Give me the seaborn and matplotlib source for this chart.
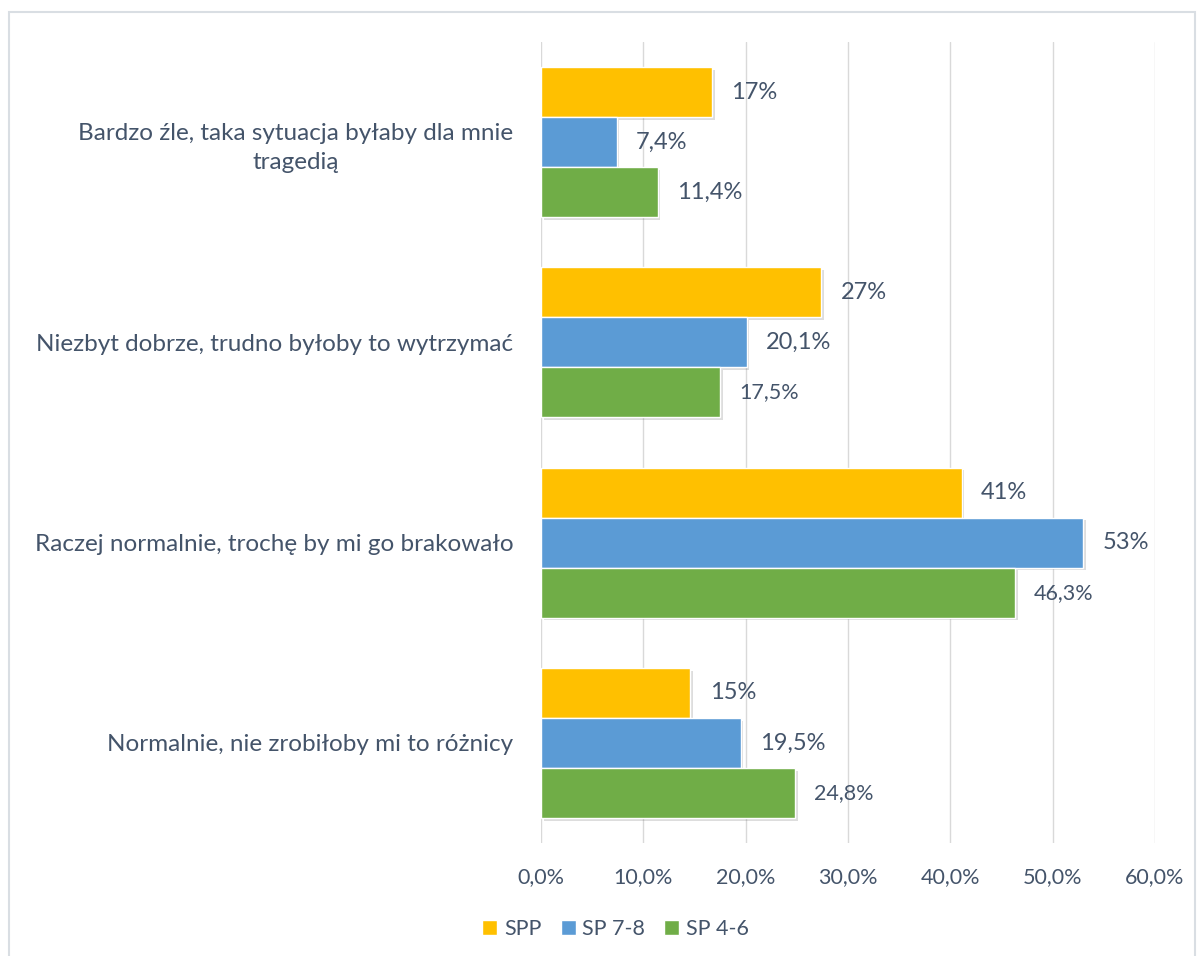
import pandas as pd
import numpy as np
import matplotlib.pyplot as plt
import seaborn as sns
from matplotlib.patches import Rectangle
from matplotlib import patheffects as pe

categories = [
    "Bardzo źle, taka sytuacja byłaby dla mnie\ntragedią",
    "Niezbyt dobrze, trudno byłoby to wytrzymać",
    "Raczej normalnie, trochę by mi go brakowało",
    "Normalnie, nie zrobiłoby mi to różnicy",
]
series = ["SPP", "SP 7-8", "SP 4-6"]
spp = [16.7, 27.4, 41.1, 14.6]
sp78 = [7.4, 20.1, 53.0, 19.5]
sp46 = [11.4, 17.5, 46.3, 24.8]
colors = ["#FFC000", "#5B9BD5", "#70AD47"]
text_col = "#44546A"

df = pd.DataFrame({
    "kategoria": categories * 3,
    "grupa": [s for s in series for _ in categories],
    "wartosc": spp + sp78 + sp46,
})

sns.set_style("white")
plt.rcParams["font.family"] = ["Lato", "DejaVu Sans"]

fig = plt.figure(figsize=(12, 9.56), dpi=100)
ax = fig.add_axes([0.4508, 0.1182, 0.5117, 0.8379])

sns.barplot(data=df, y="kategoria", x="wartosc", hue="grupa", order=categories,
            hue_order=series, palette=colors, orient="h", width=0.75, gap=0,
            saturation=1, ax=ax, legend=True, zorder=3)

for bars in ax.containers:
    for b in bars:
        b.set_path_effects([pe.SimplePatchShadow(offset=(2, -2), alpha=0.18, shadow_rgbFace="#444444"),
                            pe.Normal()])


def fmt(v, dec):
    s = f"{v:.{dec}f}".replace(".", ",")
    if s.endswith(",0"):
        s = s[:-2]
    return s + "%"


for i, bars in enumerate(ax.containers):
    for j, b in enumerate(bars):
        v = b.get_width()
        if i == 0:
            lab = fmt(v, 0)
            fs = 17
        else:
            lab = fmt(v, 1)
            fs = 17 if (i == 1 or j == 0) else 15.5
        ax.annotate(lab, (v, b.get_y() + b.get_height() / 2), xytext=(14, 0),
                    textcoords="offset points", va="center", ha="left",
                    fontsize=fs, color=text_col)

ax.set_xlim(0, 60)
ax.set_ylim(3.5, -0.5)
ax.set_xticks(np.arange(0, 61, 10))
ax.set_xticklabels([f"{t:.1f}%".replace(".", ",") for t in np.arange(0, 61, 10)])
ax.grid(axis="x", color="#D9D9D9", lw=1, zorder=0)
ax.grid(axis="y", visible=False)
for s in ax.spines.values():
    s.set_visible(False)
ax.set_xlabel("")
ax.set_ylabel("")
ax.tick_params(axis="x", length=0, pad=17, labelsize=15.5, labelcolor=text_col)
ax.tick_params(axis="y", length=0, pad=20, labelsize=17.5, labelcolor=text_col)
for t in ax.get_yticklabels():
    t.set_multialignment("center")
    t.set_linespacing(1.45)

handles, labels = ax.get_legend_handles_labels()
ax.legend_.remove()
fig.legend(handles, labels, loc="center", bbox_to_anchor=(0.513, 0.028), ncol=3,
           frameon=False, fontsize=15.5, labelcolor=text_col, handlelength=0.7,
           handleheight=0.7, handletextpad=0.3, columnspacing=0.9)

fig.patches.append(Rectangle((9 / 1200, -0.01), 1186 / 1200, 1 - 12 / 956 + 0.01,
                             transform=fig.transFigure, fill=False,
                             edgecolor="#D9DEE3", lw=1.5))

fig.savefig("out.png", dpi=100)
